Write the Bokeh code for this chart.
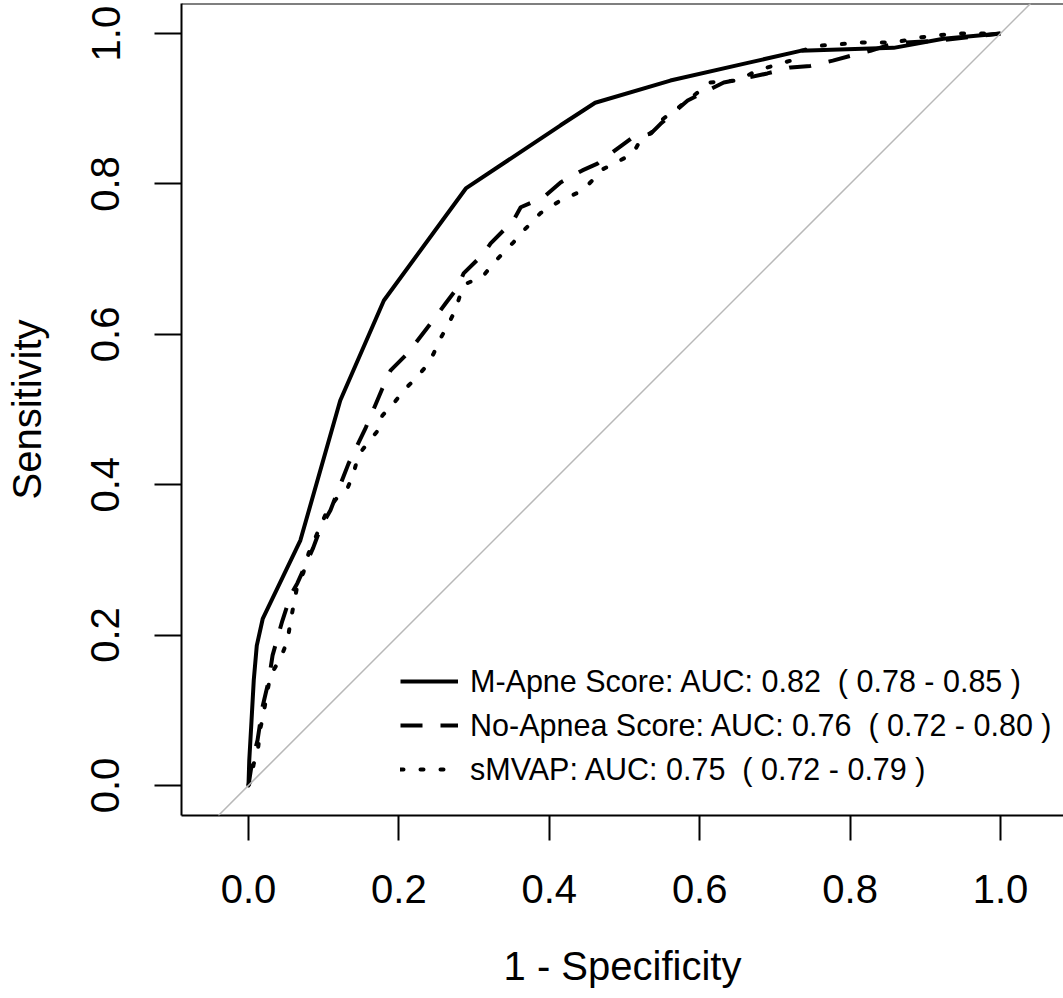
from bokeh.plotting import figure
from bokeh.models import (Range1d, FixedTicker, Legend, LegendItem, Slope, Span,
                          CustomJSTickFormatter)
from bokeh.embed import file_html
from bokeh.resources import INLINE

# ---------------- data (1 - specificity, sensitivity) ----------------
mapne_fpr = [0.0, 0.001, 0.004, 0.007, 0.011, 0.019, 0.069, 0.122, 0.180, 0.289,
             0.415, 0.461, 0.561, 0.664, 0.734, 0.858, 0.924, 1.0]
mapne_tpr = [0.0, 0.033, 0.086, 0.140, 0.186, 0.222, 0.326, 0.512, 0.645, 0.794,
             0.878, 0.908, 0.9375, 0.961, 0.977, 0.981, 0.993, 1.0]

noapnea_fpr = [0.0, 0.005, 0.012, 0.019, 0.027, 0.032, 0.045, 0.056, 0.065, 0.086,
               0.096, 0.109, 0.133, 0.156, 0.178, 0.189, 0.211, 0.245, 0.262, 0.278,
               0.286, 0.3125, 0.322, 0.352, 0.362, 0.392, 0.415, 0.444, 0.464, 0.492,
               0.511, 0.535, 0.548, 0.584, 0.610, 0.632, 0.658, 0.690, 0.721, 0.747,
               0.777, 0.803, 0.827, 0.858, 0.920, 1.0]
noapnea_tpr = [0.0, 0.033, 0.060, 0.106, 0.140, 0.173, 0.219, 0.253, 0.269, 0.316,
               0.343, 0.366, 0.428, 0.476, 0.528, 0.552, 0.574, 0.618, 0.641, 0.662,
               0.681, 0.707, 0.721, 0.751, 0.769, 0.782, 0.802, 0.818, 0.827, 0.848,
               0.862, 0.867, 0.880, 0.911, 0.924, 0.935, 0.940, 0.947, 0.955, 0.957,
               0.964, 0.971, 0.977, 0.987, 0.991, 1.0]

smvap_fpr = [0.0, 0.003, 0.007, 0.012, 0.016, 0.019, 0.023, 0.029, 0.043, 0.052,
             0.056, 0.065, 0.073, 0.080, 0.093, 0.105, 0.118, 0.132, 0.140, 0.146,
             0.158, 0.172, 0.178, 0.193, 0.206, 0.222, 0.235, 0.246, 0.255, 0.265,
             0.275, 0.282, 0.291, 0.3125, 0.326, 0.352, 0.366, 0.388, 0.415, 0.444,
             0.472, 0.511, 0.521, 0.539, 0.548, 0.584, 0.614, 0.650, 0.677, 0.721,
             0.734, 0.761, 0.814, 0.858, 0.894, 0.9375, 1.0]
smvap_tpr = [0.0, 0.007, 0.029, 0.043, 0.077, 0.090, 0.113, 0.146, 0.170, 0.193,
             0.219, 0.266, 0.283, 0.309, 0.339, 0.366, 0.383, 0.396, 0.416, 0.439,
             0.455, 0.472, 0.492, 0.508, 0.525, 0.541, 0.556, 0.574, 0.594, 0.612,
             0.632, 0.654, 0.668, 0.678, 0.695, 0.722, 0.738, 0.761, 0.778, 0.791,
             0.820, 0.840, 0.858, 0.871, 0.884, 0.911, 0.935, 0.9375, 0.951, 0.964,
             0.977, 0.984, 0.988, 0.988, 0.995, 1.0, 1.0]

legend_labels = ["M-Apne Score: AUC: 0.82  ( 0.78 - 0.85 )",
                 "No-Apnea Score: AUC: 0.76  ( 0.72 - 0.80 )",
                 "sMVAP: AUC: 0.75  ( 0.72 - 0.79 )"]
tick_values = [0.0, 0.2, 0.4, 0.6, 0.8, 1.0]

FONT = "Liberation Sans"

p = figure(width=1063, height=998, output_backend="svg", toolbar_location=None,
           x_range=Range1d(-0.0891, 1.0838), y_range=Range1d(-0.04, 1.04),
           min_border_left=181, min_border_right=0, min_border_top=3,
           min_border_bottom=183, background_fill_color="white",
           border_fill_color="white", outline_line_color=None,
           x_axis_label="1 - Specificity", y_axis_label="Sensitivity")
p.grid.visible = False

fmt = CustomJSTickFormatter(code="return tick.toFixed(1);")
for ax in (p.xaxis[0], p.yaxis[0]):
    ax.ticker = FixedTicker(ticks=tick_values)
    ax.formatter = fmt
    ax.minor_tick_line_color = None
    ax.major_tick_in = 0
    ax.axis_line_width = 2
    ax.axis_line_color = "black"
    ax.major_tick_line_width = 2
    ax.major_tick_line_color = "black"
    ax.major_label_text_font = FONT
    ax.major_label_text_font_size = "40px"
    ax.major_label_text_color = "black"
    ax.axis_label_text_font = FONT
    ax.axis_label_text_font_size = "40px"
    ax.axis_label_text_font_style = "normal"
    ax.axis_label_text_color = "black"

p.xaxis[0].major_tick_out = 25
p.xaxis[0].major_label_standoff = 34
p.xaxis[0].axis_label_standoff = 38
p.yaxis[0].major_tick_out = 27
p.yaxis[0].major_label_standoff = 35
p.yaxis[0].major_label_orientation = "vertical"
p.yaxis[0].axis_label_standoff = 40

# top border of the plot box
p.add_layout(Span(location=1.04, dimension="width", line_color="black", line_width=2))

# chance diagonal
p.add_layout(Slope(gradient=1, y_intercept=0, line_color="#B8B8B8", line_width=1.5))

r1 = p.line(mapne_fpr, mapne_tpr, line_color="black", line_width=4)
r2 = p.line(noapnea_fpr, noapnea_tpr, line_color="black", line_width=4,
            line_dash="22 18")
r3 = p.line(smvap_fpr, smvap_tpr, line_color="black", line_width=4,
            line_dash="3 17", line_cap="round")

legend = Legend(items=[LegendItem(label=legend_labels[0], renderers=[r1]),
                       LegendItem(label=legend_labels[1], renderers=[r2]),
                       LegendItem(label=legend_labels[2], renderers=[r3])],
                location=(219, 24), padding=0, margin=0, spacing=0,
                glyph_width=58, glyph_height=44, label_height=44,
                label_standoff=12, border_line_color=None,
                background_fill_alpha=0, label_text_font=FONT,
                label_text_font_size="30.5px", label_text_color="black")
p.add_layout(legend)

open("out.html", "w").write(file_html(p, INLINE))
